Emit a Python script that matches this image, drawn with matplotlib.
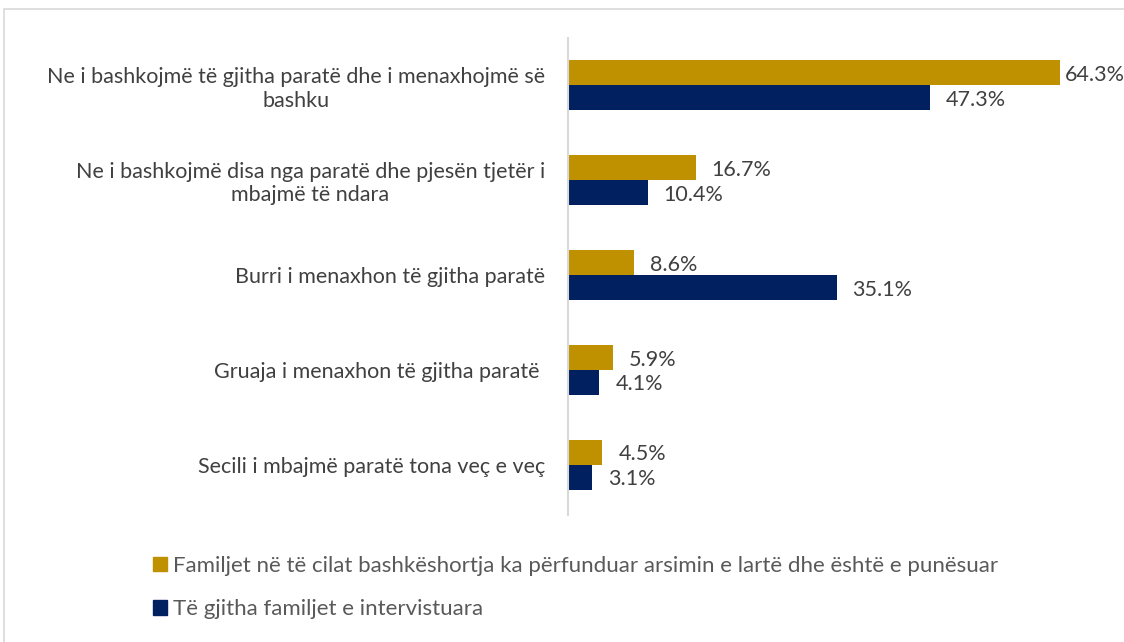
import matplotlib
matplotlib.use("Agg")
import matplotlib.pyplot as plt
import matplotlib.patches as mpatches

# --- data ---
categories = [
    "Ne i bashkojmë të gjitha paratë dhe i menaxhojmë së\nbashku",
    "Ne i bashkojmë disa nga paratë dhe pjesën tjetër i\nmbajmë të ndara",
    "Burri i menaxhon të gjitha paratë",
    "Gruaja i menaxhon të gjitha paratë ",
    "Secili i mbajmë paratë tona veç e veç",
]
educated_employed = [64.3, 16.7, 8.6, 5.9, 4.5]
all_families = [47.3, 10.4, 35.1, 4.1, 3.1]
series_names = [
    "Familjet në të cilat bashkëshortja ka përfunduar arsimin e lartë dhe është e punësuar",
    "Të gjitha familjet e intervistuara",
]

GOLD = "#BF9000"
NAVY = "#002060"
TXT = "#404040"

plt.rcParams["font.family"] = ["Lato", "DejaVu Sans"]
FS = 15.5

W, H = 1124, 642
fig = plt.figure(figsize=(W / 100, H / 100), dpi=100)
fig.patch.set_facecolor("white")

# light frame of the chart area
fig.patches.append(mpatches.Rectangle((4 / W, -0.1), 1.2, 1 - 9 / H + 0.1,
                                      transform=fig.transFigure, fill=False,
                                      edgecolor="#d9d9d9", linewidth=1.2))

ax = fig.add_axes([568 / W, 1 - 515 / H, 1 - 568 / W, (515 - 38) / H])
xmax = (W - 568) / 7.65
ax.set_xlim(0, xmax)
ax.set_ylim(4.53, -0.5)

bh = 0.263
y = list(range(len(categories)))
ax.barh([i - bh / 2 for i in y], educated_employed, height=bh, color=GOLD)
ax.barh([i + bh / 2 for i in y], all_families, height=bh, color=NAVY)

# value labels
for vals, off in [(educated_employed, -bh / 2), (all_families, bh / 2)]:
    for i, v in enumerate(vals):
        pad = 11.5
        # keep the label inside the figure for the longest bar
        if v + 9 > xmax:
            pad = 3.5
        ax.annotate(f"{v}%", (v, i + off), xytext=(pad, -1.5),
                    textcoords="offset points", ha="left", va="center",
                    fontsize=FS, color=TXT, annotation_clip=False)

ax.set_yticks(y)
ax.set_yticklabels(categories, fontsize=FS, color=TXT, multialignment="center")
ax.tick_params(axis="y", length=0, pad=16.5)
ax.set_xticks([])
for s in ["top", "right", "bottom"]:
    ax.spines[s].set_visible(False)
ax.spines["left"].set_color("#d9d9d9")
ax.spines["left"].set_linewidth(1.5)

handles = [mpatches.Patch(color=GOLD, label=series_names[0]),
           mpatches.Patch(color=NAVY, label=series_names[1])]
leg = fig.legend(handles=handles, loc="upper left",
                 bbox_to_anchor=(153 / W, 1 - 556 / H),
                 frameon=False, fontsize=16, borderpad=0, borderaxespad=0,
                 handlelength=0.63, handleheight=0.63, handletextpad=0.27,
                 labelspacing=1.05)
for t in leg.get_texts():
    t.set_color("#595959")

plt.savefig("out.png", dpi=100, facecolor=fig.get_facecolor())
plt.close()
